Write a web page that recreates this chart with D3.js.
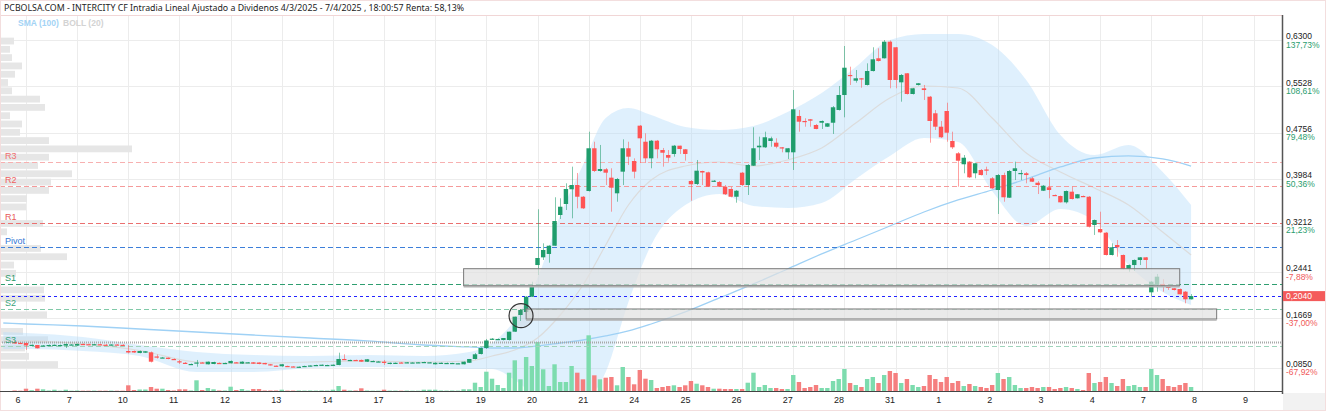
<!DOCTYPE html>
<html><head><meta charset="utf-8">
<script src="https://cdn.jsdelivr.net/npm/d3@7"></script>
<style>body{margin:0;background:#fff;}svg{display:block;font-family:"Liberation Sans",Arial,sans-serif;}</style>
</head><body><svg id="c" width="1326" height="411"></svg>
<script>
// ---------------- DATA ----------------
const title = "PCBOLSA.COM - INTERCITY CF Intradia Lineal Ajustado a Dividenos 4/3/2025 - 7/4/2025 , 18:00:57 Renta: 58,13%";
const dayLabels = ["6","7","10","11","12","13","14","17","18","19","20","21","24","25","26","27","28","31","1","2","3","4","7","8","9"];
const candlesPerDay = 9;
const leadCandles = 2; // candles shown before the first labelled day
// hourly candles [open, high, low, close]
const ohlc = [
[.1277,.1285,.1244,.1252],[.1262,.1270,.1252,.1260],
[.1260,.1269,.1144,.1219],[.1222,.1235,.1219,.1230],[.1227,.1227,.1169,.1172],[.1219,.1227,.1211,.1219],[.1227,.1235,.1219,.1227],[.1219,.1235,.1211,.1230],[.1227,.1235,.1219,.1227],[.1216,.1252,.1177,.1244],[.1235,.1244,.1227,.1235],
[.1216,.1252,.1211,.1244],[.1244,.1252,.1235,.1240],[.1240,.1250,.1230,.1235],[.1235,.1244,.1227,.1240],[.1240,.1248,.1230,.1232],[.1232,.1244,.1219,.1227],[.1227,.1240,.1219,.1235],[.1235,.1244,.1227,.1230],[.1230,.1240,.1219,.1227],
[.1127,.1227,.1086,.1102],[.1127,.1135,.1094,.1102],[.1094,.1135,.1089,.1127],[.1099,.1127,.1094,.1122],[.1105,.1119,.0936,.0949],[.1036,.1069,.1000,.1032],[.1019,.1028,.1011,.1019],[.1016,.1019,.0989,.0994],[.0994,.1003,.0986,.0990],
[.0956,.0978,.0911,.0939],[.0931,.0944,.0911,.0928],[.0911,.0919,.0903,.0911],[.0919,.0978,.0866,.0936],[.0936,.0944,.0928,.0934],[.0906,.0953,.0903,.0949],[.0911,.0949,.0906,.0944],[.0928,.0936,.0919,.0926],[.0926,.0934,.0919,.0928],
[.0923,.0969,.0919,.0961],[.0939,.0944,.0926,.0928],[.0916,.0956,.0911,.0949],[.0936,.0944,.0928,.0939],[.0939,.0944,.0911,.0916],[.0936,.0939,.0906,.0911],[.0928,.0931,.0903,.0906],[.0906,.0911,.0886,.0889],[.0883,.0886,.0870,.0873],
[.0873,.0911,.0866,.0906],[.0878,.0883,.0870,.0876],[.0870,.0876,.0863,.0868],[.0856,.0870,.0850,.0866],[.0878,.0883,.0873,.0878],[.0878,.0889,.0873,.0886],[.0894,.0899,.0889,.0894],[.0889,.0903,.0886,.0899],[.0894,.0899,.0889,.0894],
[.0889,.0903,.0883,.0899],[.0894,.1099,.0889,.0994],[.0994,.1072,.0986,.0989],[.0966,.0983,.0961,.0978],[.0978,.0983,.0970,.0975],[.0978,.0986,.0944,.0949],[.0949,.0994,.0944,.0989],[.0961,.0969,.0953,.0961],[.0953,.0961,.0944,.0953],
[.0949,.0978,.0894,.0928],[.0911,.0936,.0906,.0931],[.0916,.0936,.0911,.0931],[.0936,.0944,.0928,.0934],[.0931,.0944,.0926,.0939],[.0936,.0944,.0931,.0936],[.0939,.0944,.0931,.0939],[.0931,.0949,.0928,.0944],[.0939,.0944,.0931,.0939],
[.0906,.0939,.0903,.0931],[.0923,.0936,.0919,.0931],[.0928,.0934,.0923,.0928],[.0919,.0931,.0916,.0928],[.0923,.0928,.0919,.0923],[.0906,.0953,.0903,.0949],[.0931,.0994,.0928,.0994],[.0994,.1094,.0986,.1072],[.1077,.1185,.1069,.1177],
[.1177,.1327,.1161,.1302],[.1318,.1343,.1310,.1332],[.1327,.1335,.1318,.1327],[.1310,.1343,.1302,.1343],[.1310,.1448,.1302,.1448],[.1448,.1698,.1443,.1698],[.1726,.1825,.1626,.1809],[.1776,.2042,.1767,.2030],[.2030,.2279,.2025,.2196],
[.2557,.3484,.2391,.2674],[.2685,.2918,.2641,.2807],[.2741,.2885,.2596,.2878],[.2878,.3684,.2874,.3289],[.3389,.3667,.3323,.3527],[.3572,.3916,.3472,.3822],[.3817,.4193,.3334,.3888],[.3888,.4088,.3500,.3693],[.3693,.3705,.3489,.3500],
[.3788,.4775,.3780,.4499],[.4499,.4608,.4104,.4121],[.4121,.4554,.4110,.4154],[.4149,.4171,.3888,.4093],[.4010,.4166,.3444,.3843],[.3750,.4005,.3610,.3988],[.4110,.4648,.3888,.4499],[.4499,.4608,.4221,.4359],[.4287,.4332,.3999,.4110],
[.4875,.4886,.4254,.4665],[.4608,.4748,.4254,.4332],[.4332,.4637,.4166,.4625],[.4625,.4637,.4332,.4482],[.4470,.4504,.4193,.4425],[.4387,.4470,.4276,.4342],[.4404,.4554,.4359,.4542],[.4542,.4542,.4404,.4487],[.4482,.4487,.4293,.4404],
[.3955,.3971,.3627,.3900],[.3905,.4304,.3888,.4126],[.4121,.4126,.3888,.4096],[.4099,.4110,.3855,.3860],[.3950,.3971,.3938,.3960],[.3938,.3955,.3855,.3860],[.3860,.3888,.3722,.3734],[.3822,.3855,.3684,.3693],[.3693,.3805,.3594,.3793],
[.4093,.4104,.3872,.3888],[.3888,.4237,.3722,.4221],[.4209,.4848,.4204,.4499],[.4515,.4692,.4304,.4542],[.4515,.4775,.4504,.4682],[.4620,.4692,.4525,.4665],[.4592,.4665,.4499,.4525],[.4515,.4520,.4432,.4504],[.4432,.4504,.4321,.4499],
[.4432,.5468,.4138,.5147],[.5036,.5136,.4775,.4941],[.4953,.4998,.4858,.4944],[.4981,.4986,.4858,.4958],[.4886,.4903,.4815,.4820],[.4924,.4961,.4820,.4953],[.4858,.4919,.4853,.4914],[.4924,.5202,.4737,.5181],[.5136,.5535,.5127,.5385],
[.5385,.6200,.5014,.5839],[.5718,.5856,.5552,.5709],[.5623,.5801,.5590,.5663],[.5663,.5668,.5507,.5646],[.5552,.5912,.5543,.5784],[.5784,.6179,.5776,.5979],[.5996,.6162,.5942,.5951],[.5996,.6300,.5992,.6272],[.6272,.6292,.5497,.5635],
[.6179,.6184,.5497,.5635],[.5596,.5734,.5274,.5718],[.5746,.5751,.5393,.5402],[.5402,.5502,.5393,.5496],[.5552,.5585,.5543,.5580],[.5496,.5552,.5302,.5468],[.5357,.5369,.4592,.4953],[.5081,.5136,.4803,.4858],[.4858,.4953,.4670,.4682],
[.5119,.5257,.4608,.4758],[.4620,.4775,.4487,.4515],[.4415,.4437,.3860,.4292],[.4233,.4387,.4083,.4342],[.4276,.4287,.4005,.4016],[.4083,.4259,.3999,.4249],[.4138,.4154,.4046,.4054],[.4146,.4193,.4054,.4138],[.3999,.4021,.3822,.3833],
[.3805,.4071,.3406,.4054],[.4054,.4093,.3610,.3684],[.3677,.4138,.3672,.4121],[.4121,.4276,.3971,.4166],[.4076,.4138,.3971,.4088],[.4083,.4104,.3916,.4054],[.3999,.4021,.3938,.3943],[.3926,.3955,.3738,.3888],[.3793,.3888,.3788,.3876],
[.3850,.4016,.3667,.3805],[.3722,.3730,.3705,.3710],[.3705,.3713,.3597,.3600],[.3600,.3797,.3580,.3788],[.3777,.3860,.3647,.3655],[.3667,.3738,.3664,.3734],[.3705,.3713,.3697,.3702],[.3693,.3705,.3181,.3194],[.3223,.3314,.3057,.3306],
[.3156,.3444,.3090,.3101],[.3095,.3106,.2715,.2724],[.2724,.2918,.2715,.2852],[.2890,.2973,.2695,.2852],[.2724,.2732,.2483,.2491],[.2491,.2566,.2446,.2557],[.2557,.2649,.2458,.2641],[.2641,.2690,.2557,.2685],[.2685,.2690,.2491,.2641],
[.2103,.2292,.2030,.2280],[.2225,.2408,.2114,.2363],[.2242,.2320,.2114,.2197],[.2197,.2208,.2142,.2175],[.2170,.2175,.2133,.2142],[.2158,.2167,.2067,.2070],[.2114,.2125,.1920,.1987],[.1987,.2075,.1984,.2040]
];
const volumes = [
5,3, 23,8,23,17,5,13,3,13,3, 5,3,3,4,3,3,4,3,3,
57,10,15,15,40,23,23,10,5, 17,17,5,107,10,30,17,5,5, 43,10,20,5,20,20,5,5,5,
13,4,4,5,4,5,4,5,4, 13,50,13,5,5,27,5,3,3, 13,4,4,3,4,3,3,13,13,
13,5,4,5,4,17,17,83,40, 193,123,60,30,183,307,117,340,250, 490,217,50,267,90,90,250,183,117,
557,157,117,133,140,57,240,140,67, 210,123,110,30,40,50,57,40,57, 100,73,57,40,23,23,20,20,20,
20,83,183,40,60,30,30,20,20, 160,90,30,40,60,30,30,100,120, 220,80,60,40,120,140,80,160,200,
180,80,120,60,40,50,160,120,90, 140,80,100,50,70,50,40,30,60, 180,120,140,60,30,30,40,30,40,
40,20,30,40,30,20,10,180,80, 90,140,80,50,120,50,60,40,40, 220,160,120,50,40,60,80,40
];
// Bollinger (20) and SMA (100), sampled at candle positions
const indSamples = [-4,0,10,20,30,40,50,60,70,78,82,86,90,94,98,102,106,110,116,122,128,134,140,146,152,158,164,170,176,182,188,194,200,205];
const bollUpper = [.1443,.1427,.1360,.1227,.1111,.1061,.1044,.1061,.1044,.1111,.1260,.1643,.2341,.3389,.4221,.5003,.5169,.5052,.4853,.4803,.4870,.5102,.5418,.5851,.6300,.6400,.6400,.6217,.5635,.4720,.4387,.4553,.4104,.3555];
const bollMid   = [.1302,.1294,.1244,.1135,.0944,.0919,.0944,.0961,.0944,.0961,.1044,.1144,.1343,.1726,.2225,.2890,.3555,.3971,.4204,.4271,.4204,.4304,.4504,.4919,.5335,.5535,.5502,.5003,.4420,.4104,.3838,.3555,.3106,.2724];
const bollLower = [.1160,.1160,.1127,.1044,.0778,.0778,.0844,.0861,.0844,.0828,.0828,.0645,.0345,.0063,.0229,.0778,.1942,.2890,.3555,.3738,.3539,.3506,.3589,.3988,.4370,.4670,.4603,.3788,.3206,.3489,.3290,.2557,.2108,.1892];
const sma100    = [.1593,.1576,.1543,.1493,.1443,.1393,.1343,.1294,.1227,.1194,.1177,.1177,.1211,.1260,.1310,.1377,.1460,.1576,.1776,.2009,.2242,.2491,.2741,.2973,.3206,.3439,.3639,.3805,.3988,.4188,.4337,.4371,.4321,.4204];
// price axis
const priceTicks = [0.6300,0.5528,0.4756,0.3984,0.3212,0.2441,0.1669,0.0850];
const pctLabels  = ["137,73%","108,61%","79,48%","50,36%","21,23%","-7,88%","-37,00%","-67,92%"];
const lastPrice = 0.2040;
const refLine = 0.1282;
// pivot levels
const pivotNames  = ["R3","R2","R1","Pivot","S1","S2","S3"];
const pivotValues = [0.4276,0.3871,0.3251,0.2852,0.2236,0.1820,0.1215];
// volume profile (left), bins from profileStart with profileStep
const profileStart = 0.0836, profileStep = 0.0138;
const profile = [58,29,25,48,23,0,47,0,45,44,0,16,14,67,41,0,7,43,0,26,27,49,51,72,38,49,132,49,20,22,10,45,40,12,8,15,22,12,10,14];
// drawn zones [startCandle, endCandle, priceTop, priceBottom]
const zones = [[77,203,0.2496,0.2213],[88,209.5,0.1826,0.1659]];
const marker = {n:87.1, price:0.1715};

// ---------------- DRAW ----------------
const W=1326,H=411, plotR=1282, plotT=15, plotB=391;
const svg=d3.select("#c");
const x=d3.scaleLinear().domain([0,candlesPerDay*24]).range([26,26+51.15*24]);
const y=d3.scaleLinear().domain([0.085,0.63]).range([367.65,40]);
const yv=d3.scaleLinear().domain([0,600]).range([plotB,plotB-60]);
const pw=d3.scaleLinear().domain([0,150]).range([0,150]);
const candles=ohlc.map((d,i)=>({n:i-leadCandles,o:d[0],h:d[1],l:d[2],c:d[3],v:volumes[i]}));
const GREEN="#1f9d6c", RED="#ff5454";

svg.append("rect").attr("width",W).attr("height",H).attr("fill","#fff");
svg.append("defs").append("clipPath").attr("id","plot").append("rect").attr("x",0).attr("y",plotT).attr("width",plotR).attr("height",plotB-plotT);
const g=svg.append("g").attr("clip-path","url(#plot)");

// grid
const dayIdx=dayLabels.map((d,i)=>i*candlesPerDay);
g.selectAll(".vg").data(dayIdx).join("line").attr("x1",d=>Math.round(x(d))+.5).attr("x2",d=>Math.round(x(d))+.5).attr("y1",plotT).attr("y2",plotB).attr("stroke","#ececec");
g.selectAll(".hg").data(priceTicks).join("line").attr("x1",0).attr("x2",plotR).attr("y1",d=>Math.round(y(d))+.5).attr("y2",d=>Math.round(y(d))+.5).attr("stroke","#ececec");

// volume profile
g.selectAll(".pf").data(profile.map((v,k)=>({v,k}))).join("rect")
 .attr("x",0).attr("width",d=>pw(d.v))
 .attr("y",d=>y(profileStart+(d.k+1)*profileStep)+1).attr("height",d=>y(profileStart+d.k*profileStep)-y(profileStart+(d.k+1)*profileStep)-1.5)
 .attr("fill","#e6e6e6");

// bollinger band
const band=indSamples.map((n,i)=>({n,u:bollUpper[i],m:bollMid[i],l:bollLower[i],s:sma100[i]}));
g.append("path").datum(band).attr("d",d3.area().x(d=>x(d.n)).y0(d=>y(d.l)).y1(d=>y(d.u)).curve(d3.curveMonotoneX)).attr("fill","rgba(185,222,250,0.45)");
g.append("path").datum(band).attr("d",d3.line().x(d=>x(d.n)).y(d=>y(d.m)).curve(d3.curveMonotoneX)).attr("fill","none").attr("stroke","#dcdcdc").attr("stroke-width",1.2);
g.append("path").datum(band).attr("d",d3.line().x(d=>x(d.n)).y(d=>y(d.s)).curve(d3.curveMonotoneX)).attr("fill","none").attr("stroke","#9fd1f5").attr("stroke-width",1.3);

// volume bars
g.selectAll(".vb").data(candles).join("rect").attr("x",d=>x(d.n)-2.2).attr("width",4.4)
 .attr("y",d=>yv(d.v)).attr("height",d=>plotB-yv(d.v)).attr("fill",d=>d.c>=d.o?"#7ddcae":"#f57f7f");

// pivot lines
const pivColor={R3:"#f7b0b0",R2:"#f59a9a",R1:"#ea6f6f",Pivot:"#3d7fd9",S1:"#2f9e70",S2:"#80c9a8",S3:"#9fd4bb"};
const pivText={R3:"#f07070",R2:"#ee6060",R1:"#e85a5a",Pivot:"#3577d4",S1:"#2a9a6a",S2:"#3aa37a",S3:"#3aa37a"};
const piv=pivotNames.map((nm,i)=>({nm,v:pivotValues[i]}));
g.selectAll(".pv").data(piv).join("line").attr("x1",0).attr("x2",plotR).attr("y1",d=>Math.round(y(d.v))+.5).attr("y2",d=>Math.round(y(d.v))+.5)
 .attr("stroke",d=>pivColor[d.nm]).attr("stroke-dasharray","5,3");
g.append("line").attr("x1",0).attr("x2",plotR).attr("y1",Math.round(y(refLine))+.5).attr("y2",Math.round(y(refLine))+.5).attr("stroke","#a8a8a8").attr("stroke-width",2).attr("stroke-dasharray","1,1");
g.append("line").attr("x1",0).attr("x2",plotR).attr("y1",Math.round(y(lastPrice))+.5).attr("y2",Math.round(y(lastPrice))+.5).attr("stroke","#2323ff").attr("stroke-dasharray","3,3");
svg.selectAll(".pt").data(piv).join("text").attr("x",5).attr("y",d=>y(d.v)-3).text(d=>d.nm).attr("fill",d=>pivText[d.nm]).attr("font-size",9);

// candles
const cg=g.append("g");
cg.selectAll(".wk").data(candles).join("line").attr("x1",d=>Math.round(x(d.n))+.5).attr("x2",d=>Math.round(x(d.n))+.5)
 .attr("y1",d=>y(d.h)).attr("y2",d=>y(d.l)).attr("stroke",d=>d.c>=d.o?GREEN:RED).attr("stroke-opacity",0.55).attr("stroke-width",1);
cg.selectAll(".bd").data(candles).join("rect").attr("x",d=>x(d.n)-2.2).attr("width",4.4)
 .attr("y",d=>y(Math.max(d.o,d.c))).attr("height",d=>Math.max(1.2,Math.abs(y(d.o)-y(d.c))))
 .attr("fill",d=>d.c>=d.o?GREEN:RED);

// zones
zones.forEach(z=>{
  g.append("rect").attr("x",x(z[0])).attr("y",y(z[2])).attr("width",x(z[1])-x(z[0])).attr("height",y(z[3])-y(z[2]))
   .attr("fill","rgba(225,225,225,0.7)").attr("stroke","#7a7a7a").attr("stroke-width",1);
  g.append("line").attr("x1",x(z[0])).attr("x2",x(z[1])).attr("y1",y(z[3])+1).attr("y2",y(z[3])+1).attr("stroke","#b0b0b0").attr("stroke-width",1.5);
});
g.append("circle").attr("cx",x(marker.n)).attr("cy",y(marker.price)).attr("r",12).attr("fill","rgba(140,140,140,0.12)").attr("stroke","#333").attr("stroke-width",1.2);

// frame
svg.append("line").attr("x1",0).attr("x2",plotR).attr("y1",plotT+.5).attr("y2",plotT+.5).attr("stroke","#f1d6d6");
svg.append("rect").attr("x",.5).attr("y",.5).attr("width",W-1).attr("height",H-1).attr("fill","none").attr("stroke","#f3dede");
svg.append("rect").attr("x",plotR+1).attr("y",plotB+2).attr("width",W-plotR-2).attr("height",H-plotB-3).attr("fill","#f2f2f2");

// axes
const ax=svg.append("g").attr("transform",`translate(${plotR},0)`)
 .call(d3.axisRight(y).tickValues(priceTicks).tickSize(0).tickPadding(4).tickFormat(d=>d3.format(".4f")(d).replace(".",",")));
ax.select(".domain").attr("stroke","#555").attr("stroke-width",1.5).attr("d",`M0.5,${plotT}V${plotB+3}`);
ax.selectAll("text").attr("font-size",8.5).attr("fill","#222").attr("dy","-0.15em").attr("font-family","Liberation Sans, Arial");
svg.selectAll(".pc").data(priceTicks).join("text").attr("x",plotR+4).attr("y",d=>y(d)+7.5).text((d,i)=>pctLabels[i])
 .attr("font-size",8.5).attr("fill",(d,i)=>pctLabels[i].startsWith("-")?"#f05a5a":"#2a9d6e");
svg.append("rect").attr("x",plotR+1).attr("y",y(lastPrice)-5).attr("width",W-plotR-2).attr("height",10).attr("fill","#f45b5b");
svg.append("text").attr("x",plotR+4).attr("y",y(lastPrice)+3.3).text(d3.format(".4f")(lastPrice).replace(".",",")).attr("fill","#fff").attr("font-size",8.5);

const bx=svg.append("g").attr("transform",`translate(0,${plotB})`)
 .call(d3.axisBottom(x).tickValues(dayIdx).tickSize(0).tickPadding(6).tickFormat((d,i)=>dayLabels[i]));
bx.select(".domain").attr("stroke","#444").attr("stroke-width",1.2).attr("d",`M0,0.5H${plotR}`);
bx.selectAll("text").attr("font-size",9).attr("fill","#222").attr("text-anchor","start").attr("dx",-11).attr("font-family","Liberation Sans, Arial");

// title & legend
svg.append("text").attr("x",4).attr("y",11).text(title).attr("font-size",8.8).attr("fill","#222").attr("font-family","Noto Sans, Open Sans, sans-serif");
svg.append("text").attr("x",18).attr("y",26).text("SMA (100)").attr("font-size",8.5).attr("font-weight","bold").attr("fill","#a3d3f5");
svg.append("text").attr("x",63).attr("y",26).text("BOLL (20)").attr("font-size",8.5).attr("font-weight","bold").attr("fill","#d3d3d3");
</script></body></html>
